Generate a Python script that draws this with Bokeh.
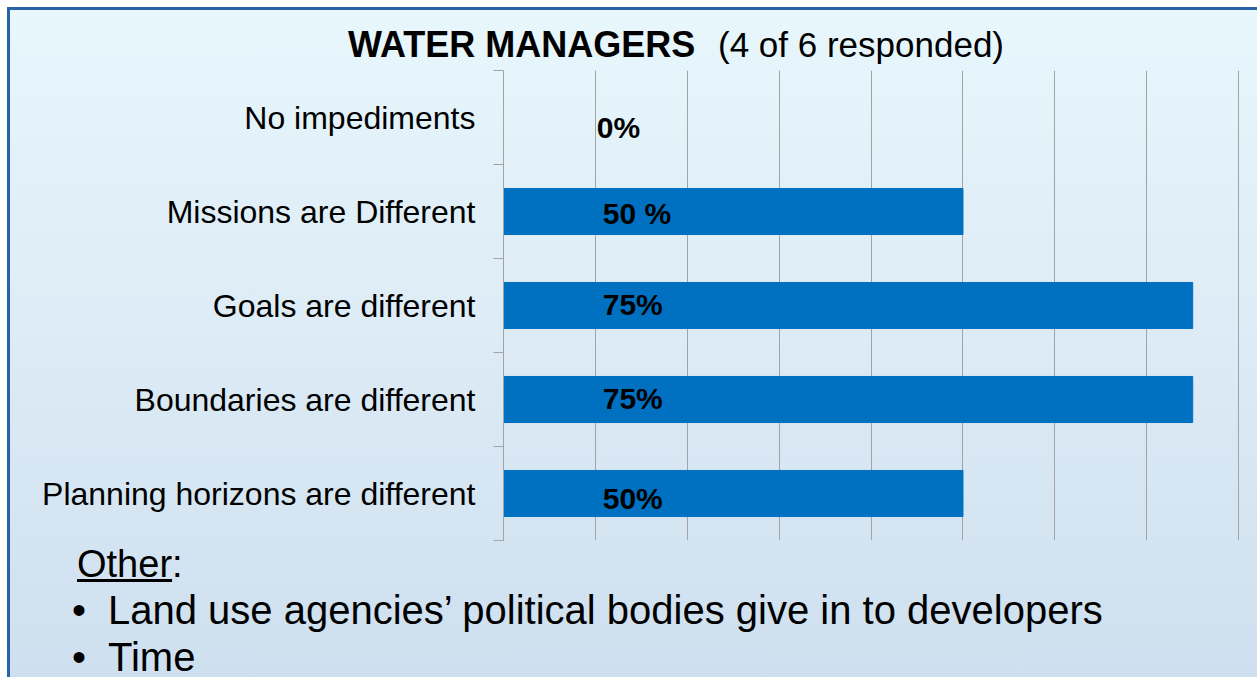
from bokeh.plotting import figure
from bokeh.models import ColumnDataSource, FixedTicker, Range1d, Div
from bokeh.layouts import column
from bokeh.core.properties import value
from bokeh.embed import file_html
from bokeh.resources import INLINE

# ---- data ----
categories = ["No impediments", "Missions are Different", "Goals are different",
              "Boundaries are different", "Planning horizons are different"]
percent = [0, 50, 75, 75, 50]
value_labels = ["0%", "50 %", "75%", "75%", "50%"]
grid_ticks = [10, 20, 30, 40, 50, 60, 70, 80]
title_bold = "WATER MANAGERS"
title_rest = "(4 of 6 responded)"
other_head = "Other"
other_items = ["Land use agencies\u2019 political bodies give in to developers", "Time"]

FONT = "Liberation Sans"
BAR = "#0070c0"
GRID = "#a3a3a3"
W, H = 1257, 677
TITLE_H, CHART_H = 70, 474

n = len(categories)
ycenters = [n - i - 0.5 for i in range(n)]

# ---- title ----
title_html = (
    f'<div style="font-family:\'{FONT}\',Arial,sans-serif;font-size:35px;line-height:40px;'
    f'color:#000;white-space:nowrap;padding-top:25px;padding-left:348px">'
    f'<span style="display:inline-block;width:370px;font-weight:bold;font-size:36px">{title_bold}</span>'
    f'<span>{title_rest}</span></div>'
)
title_div = Div(text=title_html, width=W, height=TITLE_H, margin=0)

# ---- chart ----
p = figure(width=W, height=CHART_H, title=None, toolbar_location=None,
           output_backend="svg", x_range=Range1d(0, 80.2), y_range=Range1d(0, n),
           min_border_left=503, min_border_right=17, min_border_top=0,
           min_border_bottom=4, tools="", margin=0)
p.background_fill_alpha = 0
p.border_fill_alpha = 0
p.outline_line_color = None

src = ColumnDataSource(dict(y=ycenters, right=percent, lab=value_labels,
                            dx=[-6, 0, 0, 0, 0], dy=[10, 2, -1, -1, 5]))
p.hbar(y="y", left=0, right="right", height=0.49, color=BAR, source=src)
p.text(x=10.8, y="y", text="lab", x_offset="dx", y_offset="dy", source=src,
       text_font=value(FONT), text_font_style="bold", text_font_size="30px",
       text_color="black", text_align="left", text_baseline="middle")

p.xaxis.visible = False
p.xgrid.ticker = FixedTicker(ticks=grid_ticks)
p.xgrid.grid_line_color = GRID
p.xgrid.grid_line_width = 1
p.ygrid.visible = False

ax = p.yaxis[0]
ax.ticker = FixedTicker(ticks=ycenters, minor_ticks=list(range(n + 1)))
ax.major_label_overrides = {yc: c for yc, c in zip(ycenters, categories)}
ax.major_tick_line_color = None
ax.major_tick_out = 0
ax.major_tick_in = 0
ax.minor_tick_out = 10
ax.minor_tick_in = 0
ax.minor_tick_line_color = GRID
ax.axis_line_color = GRID
ax.major_label_standoff = 18
ax.major_label_text_font = FONT
ax.major_label_text_font_size = "32px"
ax.major_label_text_color = "black"

# ---- "Other" block ----
bullet_rows = "".join(
    f'<div style="padding-left:72px;font-size:40px;line-height:47px">'
    f'<span style="display:inline-block;width:36px">\u2022</span>{it}</div>'
    for it in other_items
)
bottom_html = (
    f'<div style="font-family:\'{FONT}\',Arial,sans-serif;'
    f'color:#000;white-space:nowrap;position:relative;top:-3px">'
    f'<div style="padding-left:77px;font-size:38px;line-height:46px"><u>{other_head}</u>:</div>'
    f'{bullet_rows}</div>'
)
bottom_div = Div(text=bottom_html, width=W, height=H - TITLE_H - CHART_H, margin=0)

bg = ("linear-gradient(180deg, #e8f7fc 0%, #dcebf5 50%, #cedfef 100%) 10px 10px / "
      "calc(100% - 10px) calc(100% - 10px) no-repeat, "
      "linear-gradient(#2a62a8, #2a62a8) 7px 7px / calc(100% - 7px) calc(100% - 7px) no-repeat, "
      "#ffffff")
layout = column(title_div, p, bottom_div, width=W, height=H, spacing=0, margin=0,
                styles={"background": bg})

open("out.html", "w").write(file_html(layout, INLINE))
